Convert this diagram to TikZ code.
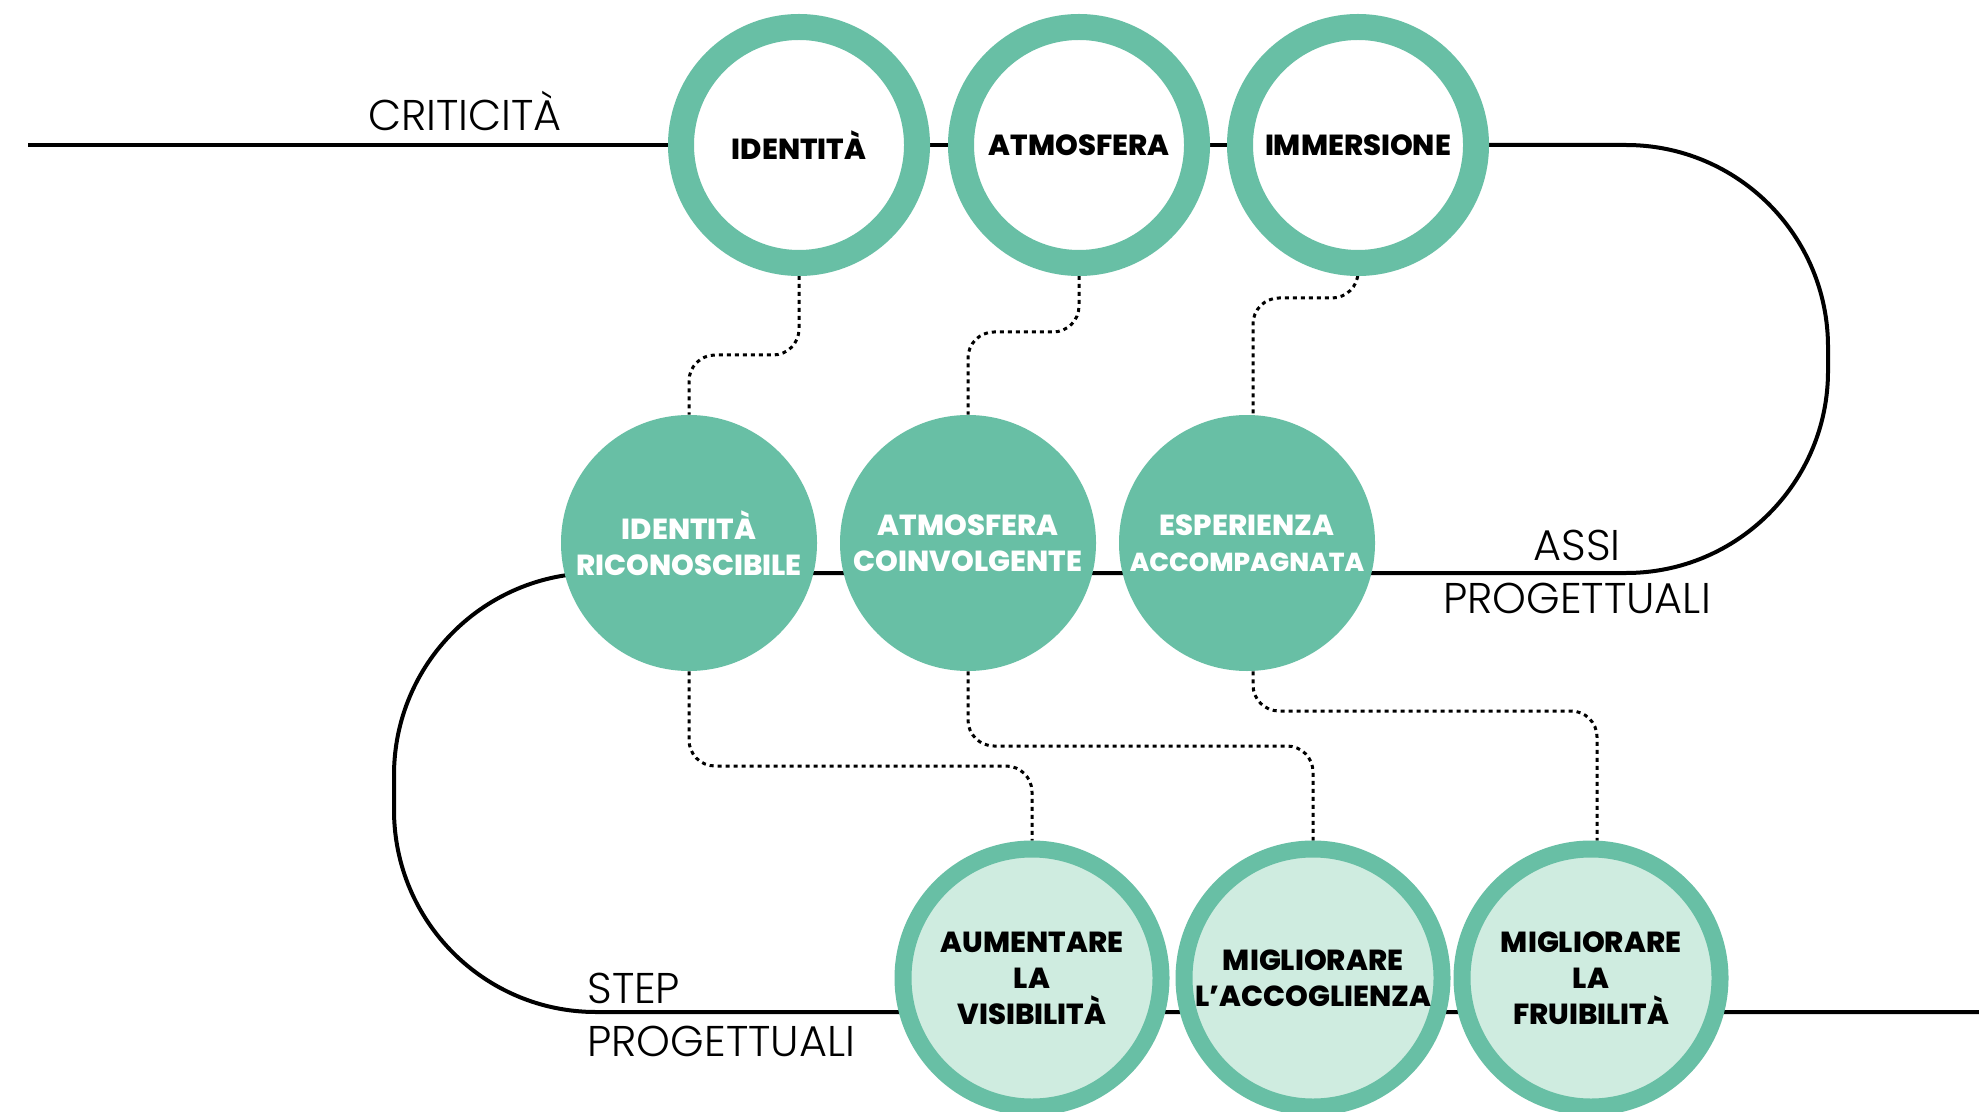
\documentclass[tikz,border=0pt]{standalone}
\usepackage{fontspec}
\IfFontExistsTF{Poppins Light}
	{\setmainfont{Poppins}[UprightFont=* Light, BoldFont=* Bold]}
	{\setmainfont{Poppins}}
\IfFontExistsTF{Poppins ExtraBold}
	{\newfontfamily\etichetta{Poppins ExtraBold}}
	{\newfontfamily\etichetta{Poppins Bold}}
\usepackage{tikz}
\usetikzlibrary{backgrounds}

\definecolor{verde}{HTML}{68BFA5}
\definecolor{verdechiaro}{HTML}{CFECE0}

\tikzset{
	criticita/.style={circle, draw=verde, line width=13pt, fill=white, minimum size=118pt, inner sep=0pt,
		align=center, font=\etichetta\fontsize{14.5}{18}\selectfont},
	asse/.style={circle, fill=verde, minimum size=128pt, inner sep=0pt, text=white,
		align=center, font=\etichetta\fontsize{14.5}{18}\selectfont},
	passo/.style={circle, draw=verde, line width=8.5pt, fill=verdechiaro, minimum size=129pt, inner sep=0pt,
		align=center, font=\etichetta\fontsize{14.5}{18}\selectfont},
	linea/.style={line width=2pt},
	legame/.style={line width=1.5pt, dash pattern=on 2pt off 2pt, rounded corners=13pt},
	didascalia/.style={inner sep=0pt, font=\fontsize{21.5}{26.5}\selectfont}
}

\begin{document}
\begin{tikzpicture}[x=0.5pt, y=-0.5pt]

		\useasboundingbox (0,0) rectangle (1979,1112);

		% criticita
		\node[criticita] (idt) at (799,145) {IDENTITÀ};
		\node[criticita] (atm) at (1079,145) {ATMOSFERA};
		\node[criticita] (imm) at (1358,145) {IMMERSIONE};

		% assi progettuali
		\node[asse] (idr) at (689,543) {IDENTITÀ\\RICONOSCIBILE};
		\node[asse] (atc) at (968,543) {ATMOSFERA\\COINVOLGENTE};
		\node[asse] (esp) at (1247,543) {ESPERIENZA\\{\fontsize{13}{18}\selectfont ACCOMPAGNATA}};

		% step progettuali
		\node[passo] (vis) at (1032,978) {AUMENTARE\\LA\\VISIBILITÀ};
		\node[passo] (acc) at (1313,978) {MIGLIORARE\\L’ACCOGLIENZA};
		\node[passo] (fru) at (1591,978) {MIGLIORARE\\LA\\FRUIBILITÀ};

		\node[didascalia, anchor=base] (tcrit) at (465,131) {CRITICITÀ};
		\node[didascalia, anchor=north, align=center] (tassi) at (1577,530) {ASSI\\PROGETTUALI};
		\node[didascalia, anchor=north west, align=left] (tstep) at (587,973) {STEP\\PROGETTUALI};

		\coordinate (inizio) at (28,145);
		\coordinate (giroa) at (1828,573);
		\coordinate (girob) at (394,573);
		\coordinate (fine) at (1979,1012);

		\begin{scope}[on background layer]
			\fill[white] (0,0) rectangle (1979,1112);

			\draw[linea] (inizio) -- (imm.east);
			\draw[linea, rounded corners=101pt] (imm.east) -| (giroa) -- (girob) |- (fine);

			\draw[legame] (idt.south) |- (idr.north |- 0,355) -- (idr.north);
			\draw[legame] (atm.south) |- (atc.north |- 0,332) -- (atc.north);
			\draw[legame] (imm.south) |- ([xshift=3pt]esp.north |- 0,298) -- ([xshift=3pt]esp.north);

			\draw[legame] (idr.south) |- (vis.north |- 0,766) -- (vis.north);
			\draw[legame] (atc.south) |- (acc.north |- 0,746) -- (acc.north);
			\draw[legame] ([xshift=3pt]esp.south) |- ([xshift=3pt]fru.north |- 0,711) -- ([xshift=3pt]fru.north);
		\end{scope}

	\end{tikzpicture}
\end{document}
